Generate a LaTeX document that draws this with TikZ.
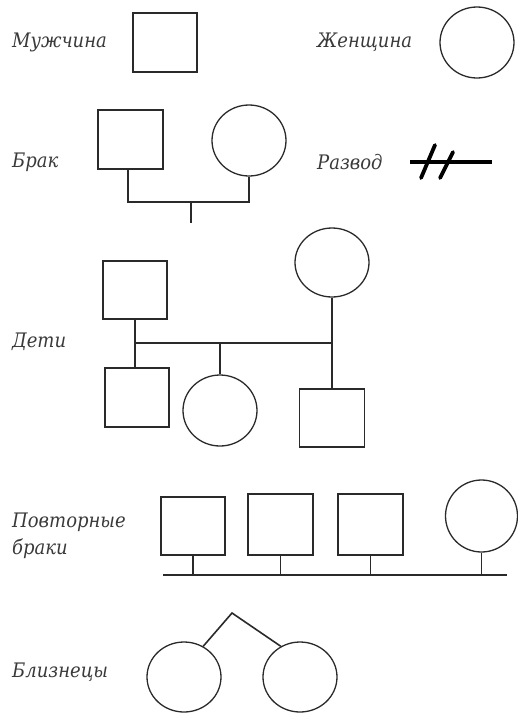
\documentclass[tikz,border=0pt]{standalone}
\usepackage{fontspec}
\setmainfont{DejaVu Serif Condensed}
\usetikzlibrary{shapes.geometric}
\definecolor{ink}{HTML}{2A2A2A}
\definecolor{txt}{HTML}{3A3A3A}
\tikzset{
  male/.style={draw=ink,line width=1.6pt,rectangle,minimum width=64pt,minimum height=59pt,inner sep=0pt},
  female/.style={draw=ink,line width=1.3pt,ellipse,minimum width=74pt,minimum height=71pt,inner sep=0pt},
  lbl/.style={anchor=west,text=txt,font=\itshape\fontsize{20}{27}\selectfont,inner sep=0pt,align=left},
  conn/.style={draw=ink,line width=1.6pt},
  divline/.style={draw=black,line width=4pt}
}
\begin{document}
\begin{tikzpicture}[x=1pt,y=-1pt]
\useasboundingbox (0,0) rectangle (518,713);
% row 1
\node[lbl] (tman) at (12,42) {Мужчина};
\node[male] (man) at (165,42.5) {};
\node[lbl] (twoman) at (317,42) {Женщина};
\node[female] (woman) at (477,42.5) {};
% marriage
\node[lbl] (tmar) at (12,162) {Брак};
\node[male,minimum width=65pt] (msq) at (130.5,139.5) {};
\node[female] (mci) at (249,140.5) {};
\coordinate (mj) at (191,201);
\coordinate (mend) at (191,223);
\draw[conn] ([xshift=-2.5pt]msq.south) -- ++(0,32) -| (mci.south);
\draw[conn] (mj) -- (mend);
% divorce
\node[lbl] (tdiv) at (317,162) {Развод};
\coordinate (d1) at (410,162);
\coordinate (d2) at (492,162);
\coordinate (s1a) at (421,178);
\coordinate (s1b) at (435,145);
\coordinate (s2a) at (440,178);
\coordinate (s2b) at (453,152);
\draw[divline] (d1) -- (d2);
\draw[divline,line width=3.8pt,line cap=round] (s1a) -- (s1b);
\draw[divline,line width=3.8pt,line cap=round] (s2a) -- (s2b);
% children
\node[lbl] (tch) at (12,342) {Дети};
\node[male,minimum height=58pt] (fa) at (135,290) {};
\node[female,minimum height=69pt] (mo) at (332,262.5) {};
\node[male] (c1) at (137,397.5) {};
\node[female] (c2) at (220,410.5) {};
\node[male,minimum width=65pt,minimum height=58pt] (c3) at (332,418) {};
\coordinate (cl) at (135,343);
\coordinate (cr) at (332,343);
\draw[conn] (fa.south) -- (fa.south |- c1.north);
\draw[conn] (cl) -- (cr);
\draw[conn] (mo.south) -- (c3.north);
\draw[conn] (c2.north) -- (c2.north |- cl);
% remarriage
\node[lbl] (trem) at (12,536) {Повторные\\браки};
\node[male,minimum height=58pt] (r1) at (193,526) {};
\node[male,minimum width=65pt,minimum height=61pt] (r2) at (280.5,524.5) {};
\node[male,minimum width=65pt,minimum height=61pt] (r3) at (370.5,524.5) {};
\node[female,minimum width=72pt,minimum height=72pt] (r4) at (481.5,516) {};
\coordinate (rl) at (163,575);
\coordinate (rr) at (507,575);
\draw[conn] (rl) -- (rr);
\foreach \n in {r1,r2,r3,r4} \draw[conn] (\n.south) -- (\n.south |- rl);
% twins
\node[lbl] (ttw) at (12,672) {Близнецы};
\node[female,minimum height=70pt] (t1) at (184,677) {};
\node[female,minimum height=70pt] (t2) at (300,677) {};
\coordinate (apex) at (232,613);
\draw[conn] (t1.58) -- (apex) -- (t2.122);
\end{tikzpicture}
\end{document}
